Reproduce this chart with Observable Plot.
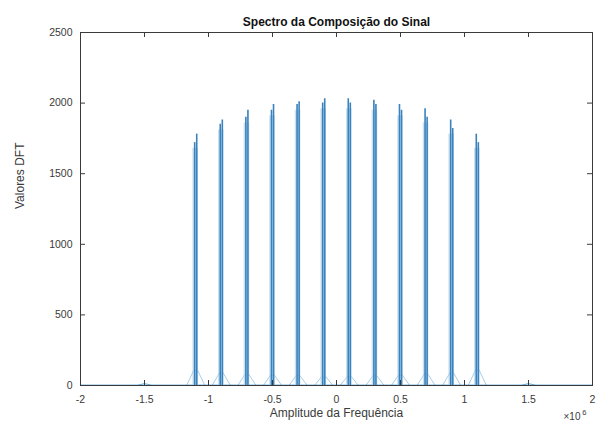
<!DOCTYPE html>
<html>
<head>
<meta charset="utf-8">
<script src="https://cdn.jsdelivr.net/npm/d3@7"></script>
<script src="https://cdn.jsdelivr.net/npm/@observablehq/plot@0.6"></script>
<style>
  html, body { margin: 0; padding: 0; background: #fff; }
  #chart svg { display: block; }
</style>
</head>
<body>
<div id="chart"></div>
<script>
// ---- data (frequencies in units of 10^6) ----
const peakFreq   = [-1.1, -0.9, -0.7, -0.5, -0.3, -0.1, 0.1, 0.3, 0.5, 0.7, 0.9, 1.1];
const peakLeft   = [1720, 1850, 1900, 1950, 1990, 2000, 2030, 2020, 1990, 1960, 1880, 1780];
const peakRight  = [1780, 1880, 1950, 1990, 2010, 2030, 2000, 1990, 1950, 1900, 1820, 1720];
const skirtH     = [110, 90, 80, 75, 70, 65, 65, 70, 75, 80, 90, 110];
const bumpFreq   = [-1.5, 1.5];
const bumpH      = [15, 15];
const xTicks     = [-2, -1.5, -1, -0.5, 0, 0.5, 1, 1.5, 2];
const xTickLabels = ["-2", "-1.5", "-1", "-0.5", "0", "0.5", "1", "1.5", "2"];
const yTicks     = [0, 500, 1000, 1500, 2000, 2500];
const titleText  = "Spectro da Composição do Sinal";
const xLabel     = "Amplitude da Frequência";
const yLabel     = "Valores DFT";
const expBase    = "×10";
const expPower   = "6";

// ---- derived tables ----
const peaks = peakFreq.map((f, i) => ({f, a: peakLeft[i], b: peakRight[i], s: skirtH[i]}));
const spikes = peaks.flatMap(p => [{x: p.f - 0.008, h: p.a}, {x: p.f + 0.008, h: p.b}]);
const skirts = peaks.flatMap((p, i) => [
  {z: i, x: p.f - 0.07, y: 2},
  {z: i, x: p.f - 0.014, y: p.s},
  {z: i, x: p.f + 0.014, y: p.s},
  {z: i, x: p.f + 0.07, y: 2}
]);
const bumps = bumpFreq.flatMap((f, i) => [
  {z: i, x: f - 0.05, y: 2}, {z: i, x: f, y: bumpH[i]}, {z: i, x: f + 0.05, y: 2}
]);
const base = [{x: -2, y: 3}, {x: 2, y: 3}];

const W = 599, H = 430;
const mL = 80, mR = 7, mT = 32, mB = 45;
const tickLenX = 5 * 4 / (W - mL - mR);        // 5px in x data units
const tickLenY = 5 * 2500 / (H - mT - mB);     // 5px in y data units
const axisColor = "#3a3a3a";

const chart = Plot.plot({
  width: W,
  height: H,
  marginLeft: mL,
  marginRight: mR,
  marginTop: mT,
  marginBottom: mB,
  style: {fontFamily: "Liberation Sans, Arial, sans-serif", background: "#fff"},
  x: {domain: [-2, 2]},
  y: {domain: [0, 2500]},
  marks: [
    // spectrum
    Plot.line(base, {x: "x", y: "y", stroke: "#0072BD", strokeWidth: 1, strokeOpacity: 0.6}),
    Plot.line(bumps, {x: "x", y: "y", z: "z", stroke: "#0072BD", strokeWidth: 1, strokeOpacity: 0.45}),
    Plot.line(skirts, {x: "x", y: "y", z: "z", stroke: "#0072BD", strokeWidth: 1, strokeOpacity: 0.35}),
    Plot.rect(peaks, {x1: d => d.f - 0.022, x2: d => d.f + 0.022, y1: 0, y2: d => Math.min(d.a, d.b) - 40,
      fill: "#a9cdea", fillOpacity: 0.6}),
    Plot.ruleX(spikes, {x: "x", y1: 0, y2: "h", stroke: "#3a82bd", strokeWidth: 1.6}),
    // box
    Plot.frame({stroke: axisColor, strokeWidth: 1}),
    // inward ticks
    Plot.ruleX(xTicks, {x: d => d, y1: 0, y2: tickLenY, stroke: axisColor}),
    Plot.ruleX(xTicks, {x: d => d, y1: 2500 - tickLenY, y2: 2500, stroke: axisColor}),
    Plot.ruleY(yTicks, {y: d => d, x1: -2, x2: -2 + tickLenX, stroke: axisColor}),
    Plot.ruleY(yTicks, {y: d => d, x1: 2 - tickLenX, x2: 2, stroke: axisColor}),
    // tick labels
    Plot.axisX(xTicks, {tickSize: 0, tickPadding: 10, tickFormat: (d, i) => xTickLabels[i], fontSize: 10.5,
      color: axisColor, label: null}),
    Plot.axisY(yTicks, {tickSize: 0, tickPadding: 8, tickFormat: d => String(d), fontSize: 10.5,
      color: axisColor, label: null}),
    // labels
    Plot.text([titleText], {frameAnchor: "top", dy: -15, text: d => d, fontSize: 12, fontWeight: "bold", fill: "#111"}),
    Plot.text([xLabel], {frameAnchor: "bottom", dy: 31, text: d => d, fontSize: 12, fill: axisColor}),
    Plot.text([yLabel], {frameAnchor: "left", dx: -60, rotate: -90, text: d => d, fontSize: 12, fill: axisColor}),
    Plot.text([expBase], {frameAnchor: "bottom-right", dx: -12, dy: 34, text: d => d, fontSize: 10, fill: axisColor}),
    Plot.text([expPower], {frameAnchor: "bottom-right", dx: -6, dy: 29, text: d => d, fontSize: 7.5, fill: axisColor})
  ]
});
document.getElementById("chart").appendChild(chart);
</script>
</body>
</html>
